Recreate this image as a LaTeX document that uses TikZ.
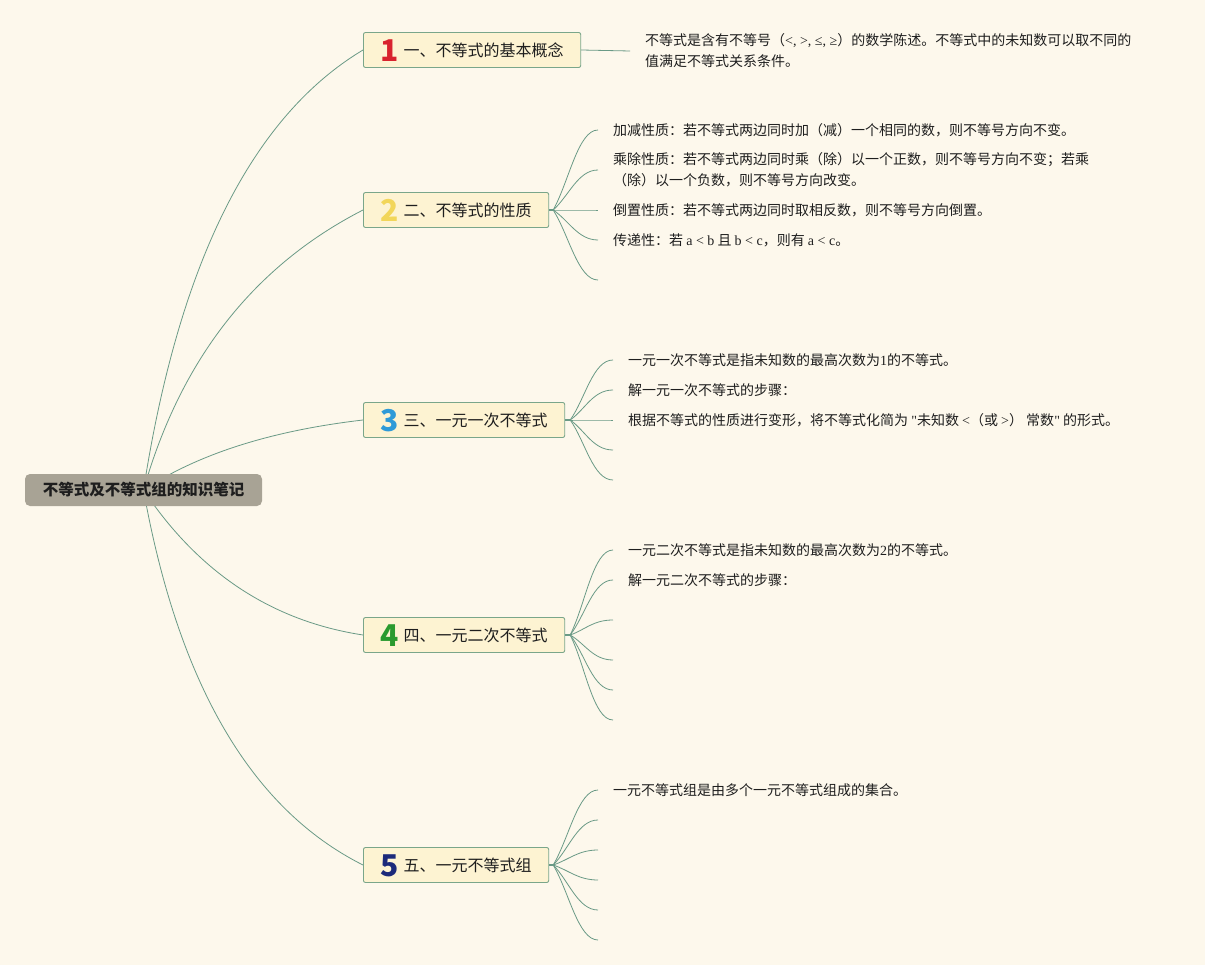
\documentclass[tikz,border=0pt]{standalone}
\usepackage{fontspec}
\setmainfont{Noto Sans CJK SC}
\newfontfamily\latin{Liberation Serif}
\usetikzlibrary{calc,backgrounds}
\definecolor{paper}{HTML}{FDF8EC}
\definecolor{linegreen}{HTML}{6A9A86}
\definecolor{boxline}{HTML}{7AA68A}
\definecolor{boxfill}{HTML}{FDF3D2}
\definecolor{rootfill}{HTML}{A8A395}
\definecolor{ink}{HTML}{1E1E1E}
\definecolor{noone}{HTML}{D8232E}
\definecolor{notwo}{HTML}{F2D65A}
\definecolor{nothree}{HTML}{2E9AD8}
\definecolor{nofour}{HTML}{2A9A2E}
\definecolor{nofive}{HTML}{1C2A7A}
\tikzstyle{rootbox} = [rectangle, rounded corners=5pt, fill=rootfill, text=ink, font=\fontsize{15.5}{18}\selectfont\bfseries, minimum width=237pt, minimum height=32pt, inner sep=0pt]
\tikzstyle{topic} = [rectangle, draw=boxline, line width=0.9pt, fill=boxfill, rounded corners=2pt, text=ink, font=\fontsize{16}{18}\selectfont, minimum height=35pt, inner xsep=17pt, inner ysep=0pt, text height=14pt, text depth=1pt, anchor=west]
\tikzstyle{note} = [anchor=west, inner xsep=15pt, inner ysep=0pt, align=left, text=ink, font=\fontsize{14}{21}\selectfont]
\tikzstyle{twig} = [draw=linegreen, line width=0.8pt]
\tikzstyle{fan} = [twig, to path={.. controls ($(\tikztostart)!0.35!(\tikztotarget)$) and ($(\tikztotarget)+(-20,0)$) .. (\tikztotarget)}]
\newcommand{\badge}[2]{\raisebox{-5pt}{\textcolor{#1}{\fontsize{30}{30}\selectfont\bfseries #2}}\hspace{5pt}}

\begin{document}
\begin{tikzpicture}[x=1pt, y=-1pt]
\useasboundingbox (0,0) rectangle (1205,965);

% Root
\node[rootbox] (root) at (143.5,490) {不等式及不等式组的知识笔记};

% Main topics
\node[topic] (b1) at (363,50) {\badge{noone}{1}一、不等式的基本概念};
\node[topic] (b2) at (363,210) {\badge{notwo}{2}二、不等式的性质};
\node[topic] (b3) at (363,420) {\badge{nothree}{3}三、一元一次不等式};
\node[topic] (b4) at (363,635) {\badge{nofour}{4}四、一元二次不等式};
\node[topic] (b5) at (363,865) {\badge{nofive}{5}五、一元不等式组};

% Topic 1
\node[note] (l11) at (630,51) {不等式是含有不等号（{\latin <, >, ≤, ≥}）的数学陈述。不等式中的未知数可以取不同的\\值满足不等式关系条件。};
\draw[twig] (b1.east) -- (l11.west);

% Topic 2
\coordinate (h2) at ($(b2.east)+(4,0)$);
\node[note] (l21) at (598,130) {加减性质：若不等式两边同时加（减）一个相同的数，则不等号方向不变。};
\node[note] (l22) at (598,170) {乘除性质：若不等式两边同时乘（除）以一个正数，则不等号方向不变；若乘\\（除）以一个负数，则不等号方向改变。};
\node[note] (l23) at (598,210) {倒置性质：若不等式两边同时取相反数，则不等号方向倒置。};
\node[note] (l24) at (598,240) {传递性：若 {\latin a < b} 且 {\latin b < c}，则有 {\latin a < c}。};
\coordinate (l25) at (598,280);
\draw[twig, line width=1.6pt] (b2.east) -- (h2);
\foreach \t in {l21.west, l22.west, l23.west, l24.west, l25}
  \draw[fan] (h2) to (\t);

% Topic 3
\coordinate (h3) at ($(b3.east)+(5,0)$);
\node[note] (l31) at (613,360) {一元一次不等式是指未知数的最高次数为{\latin 1}的不等式。};
\node[note] (l32) at (613,390) {解一元一次不等式的步骤：};
\node[note] (l33) at (613,420) {根据不等式的性质进行变形，将不等式化简为 {\latin "}未知数 {\latin <}（或 {\latin >}） 常数{\latin "} 的形式。};
\coordinate (l34) at (613,450);
\coordinate (l35) at (613,480);
\draw[twig, line width=1.6pt] (b3.east) -- (h3);
\foreach \t in {l31.west, l32.west, l33.west, l34, l35}
  \draw[fan] (h3) to (\t);

% Topic 4
\coordinate (h4) at ($(b4.east)+(5,0)$);
\node[note] (l41) at (613,550) {一元二次不等式是指未知数的最高次数为{\latin 2}的不等式。};
\node[note] (l42) at (613,580) {解一元二次不等式的步骤：};
\coordinate (l43) at (613,620);
\coordinate (l44) at (613,660);
\coordinate (l45) at (613,690);
\coordinate (l46) at (613,720);
\draw[twig, line width=1.6pt] (b4.east) -- (h4);
\foreach \t in {l41.west, l42.west, l43, l44, l45, l46}
  \draw[fan] (h4) to (\t);

% Topic 5
\coordinate (h5) at ($(b5.east)+(4,0)$);
\node[note] (l51) at (598,790) {一元不等式组是由多个一元不等式组成的集合。};
\coordinate (l52) at (598,820);
\coordinate (l53) at (598,850);
\coordinate (l54) at (598,880);
\coordinate (l55) at (598,910);
\coordinate (l56) at (598,940);
\draw[twig, line width=1.6pt] (b5.east) -- (h5);
\foreach \t in {l51.west, l52, l53, l54, l55, l56}
  \draw[fan] (h5) to (\t);

% Branches behind the root
\begin{scope}[on background layer]
\fill[paper] (0,0) rectangle (1205,965);
\draw[twig] (root.center) .. controls (178.7,263.3) and (251.7,116.7) .. (b1.west);
\draw[twig] (root.center) .. controls (180.7,359.3) and (253.7,266) .. (b2.west);
\draw[twig] (root.center) .. controls (198,454) and (271,430.7) .. (b3.west);
\draw[twig] (root.center) .. controls (198.7,572.7) and (271.7,621) .. (b4.west);
\draw[twig] (root.center) .. controls (178.3,684) and (251.3,809) .. (b5.west);
\end{scope}

\end{tikzpicture}
\end{document}
